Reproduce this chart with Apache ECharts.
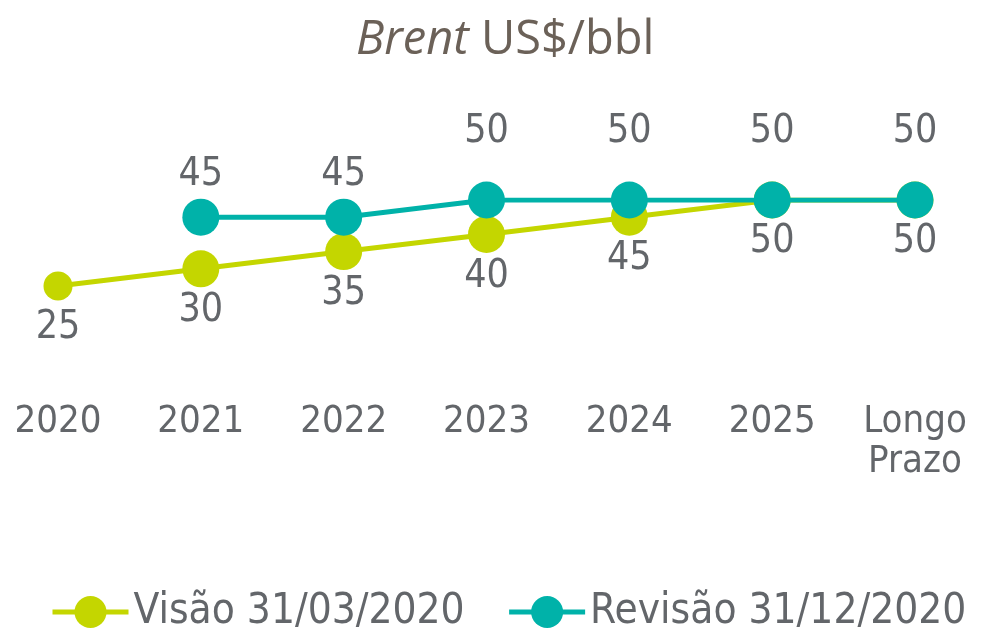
<!DOCTYPE html>
<html>
<head>
<meta charset="utf-8">
<script src="https://cdn.jsdelivr.net/npm/echarts@6/dist/echarts.min.js"></script>
<style>
  html, body { margin: 0; padding: 0; background: #fff; }
  #chart { width: 985px; height: 632px; }
</style>
</head>
<body>
<div id="chart"></div>
<script>
// categorias e valores
var categories = ['2020', '2021', '2022', '2023', '2024', '2025', 'Longo\nPrazo'];
var visaoValues = [25, 30, 35, 40, 45, 50, 50];
var revisaoValues = [null, 45, 45, 50, 50, 50, 50];
var seriesNames = ['Visão 31/03/2020', 'Revisão 31/12/2020'];

var GREEN = '#c4d600';
var TEAL = '#00b2a9';
var TEXT = '#63666a';
var FONT = "'DejaVu Sans Condensed', sans-serif";

var chart = echarts.init(document.getElementById('chart'));

// rótulos da visão ficam por baixo dos pontos
var visaoData = visaoValues.map(function (v, i) {
    return {
        value: v,
        symbolSize: i === 0 ? 29 : 37
    };
});
// rótulos da revisão ficam por cima; a partir de 2023 sobem mais
var revisaoData = revisaoValues.map(function (v, i) {
    return {
        value: v,
        label: { offset: [0, i >= 3 ? -68 : -42] }
    };
});

var option = {
    animation: false,
    title: {
        text: '{i|Brent} US$/bbl',
        left: 351,
        top: 12,
        textStyle: {
            rich: {
                i: { fontStyle: 'italic', fontSize: 47, color: '#6b6158', fontFamily: "'Open Sans', sans-serif" }
            },
            fontSize: 47,
            fontWeight: 'normal',
            color: '#6b6158',
            fontFamily: "'Open Sans', sans-serif"
        }
    },
    legend: {
        left: 45,
        bottom: -6,
        width: 960,
        itemWidth: 76,
        itemHeight: 40,
        itemGap: 42,
        lineStyle: { width: 5 },
        textStyle: { fontSize: 42, color: TEXT, fontFamily: FONT },
        data: seriesNames
    },
    grid: {
        left: 58,
        right: 70,
        top: 200,
        bottom: 260
    },
    xAxis: {
        type: 'category',
        boundaryGap: false,
        data: categories,
        axisLine: { show: false },
        axisTick: { show: false },
        axisLabel: {
            margin: 30,
            fontSize: 38,
            lineHeight: 40,
            color: TEXT,
            fontFamily: FONT
        }
    },
    yAxis: {
        type: 'value',
        min: 0,
        max: 50,
        show: false,
        splitLine: { show: false }
    },
    series: [{
        name: seriesNames[0],
        type: 'line',
        data: visaoData,
        symbol: 'circle',
        color: GREEN,
        lineStyle: { width: 5, color: GREEN },
        z: 2,
        label: {
            show: true,
            position: 'inside',
            offset: [0, 42],
            fontSize: 39,
            color: TEXT,
            fontFamily: FONT
        }
    }, {
        name: seriesNames[1],
        type: 'line',
        data: revisaoData,
        symbol: 'circle',
        symbolSize: 37,
        color: TEAL,
        lineStyle: { width: 5, color: TEAL },
        z: 3,
        label: {
            show: true,
            position: 'inside',
            fontSize: 39,
            color: TEXT,
            fontFamily: FONT
        }
    }]
};

chart.setOption(option);
</script>
</body>
</html>
